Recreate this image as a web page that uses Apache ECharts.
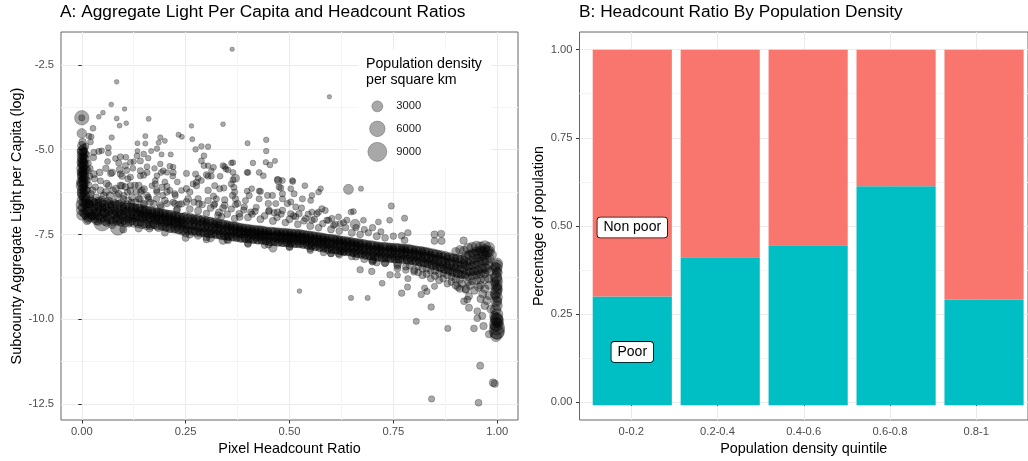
<!DOCTYPE html>
<html><head><meta charset="utf-8">
<script src="https://cdn.jsdelivr.net/npm/echarts@6.0.0/dist/echarts.min.js"></script>
<style>html,body{margin:0;padding:0;background:#fff}#chart{width:1028px;height:461px}</style>
</head><body><div id="chart"></div>
<script>
// ---------- Panel A data: [pixel headcount ratio, log aggregate light per capita, population density] ----------
const urbanColumn = [[0,-4.06,5200],[0,-4.06,1000],[0,-4.52,2300],[0.002,-4.78,1500],[0,-4.88,1800],[0.004,-4.95,1600],[0,-5.02,2000],[0.003,-5.08,1700],[0,-5.14,2200],[0.005,-5.19,1500],[0.001,-5.24,2500],[0,-5.3,1900],[0.004,-5.35,1600],[0.002,-5.4,2300],[0,-5.45,1800],[0.005,-5.5,1500],[0,-5.55,2600],[0.003,-5.6,1700],[0,-5.65,2100],[0.004,-5.7,1600],[0.001,-5.75,2400],[0,-5.8,1900],[0.005,-5.85,1500],[0.002,-5.9,2200],[0,-5.95,2800],[0.004,-6,1700],[0,-6.06,3200],[0.003,-6.12,1800],[0,-6.18,2000],[0.005,-6.24,1600],[0.001,-6.3,2300],[0,-6.36,1700],[0.004,-6.42,1900],[0,-6.5,2400],[0.003,-6.56,1600],[0,-6.63,3400],[0.002,-6.7,2000],[0,-6.78,3000],[0.004,-6.85,1800],[0,-6.93,2600],[0.001,-5.2,1200],[0.002,-5.48,1300],[0.001,-5.72,1200],[0.003,-5.33,1100],[0.002,-5.62,1400],[0.006,-5.02,1200],[0.001,-5.88,1300],[0.006,-6.1,1400],[0.008,-6.6,2200],[0.007,-6.9,2000],
[0.006,-5.1,2000],[0.007,-5.28,2200],[0.006,-5.44,2400],[0.008,-5.58,2000],[0.006,-5.7,2300],[0.007,-5.83,2100],[0.006,-5.98,2500],[0.008,-6.2,2200],[0.007,-6.35,2400],[0.009,-6.48,2000],[0.001,-5.05,2600],[0.001,-5.38,2800],[0.001,-5.68,2600],[0.001,-6.0,2700],[0.001,-6.26,2500]];
const nearUrban = [[0.017,-4.6,900],[0.021,-4.77,900],[0.027,-4.37,900],[0.023,-4.62,800],[0.029,-5.08,1000],[0.028,-5.23,1100],[0.041,-5.05,1000],[0.029,-5.72,1300],[0.043,-5.67,1200],[0.031,-5.86,1100],[0.045,-5.92,1000],[0.015,-5.4,1200],[0.02,-5.55,1000],[0.012,-6.2,1500],[0.022,-6.3,1200],[0.035,-6.4,1100],[0.018,-6.6,1600],[0.03,-6.7,1300],[0.04,-6.55,1200],[0.025,-6.95,1400],[0.038,-6.85,1300],[0.015,-7.05,1800],[0.05,-6.7,1200],[0.048,-6.45,1000],[0.033,-6.1,1000],[0.013,-5.9,1100],[0.012,-5.15,1100],[0.01,-4.9,1000],[0.014,-5.6,1300],[0.016,-6.05,1400],[0.02,-6.42,1300],[0.026,-6.2,1200],[0.019,-5.78,1100]];
const upperOutliers = [[0.051,-3.91,600],[0.041,-4.03,600],[0.071,-3.67,600],[0.103,-3.8,550],[0.084,-3.0,550],[0.084,-4.08,650],[0.091,-4.29,650],[0.107,-4.22,600],[0.161,-4.09,650],[0.072,-4.64,750],[0.064,-4.94,900],[0.064,-5.1,900],[0.048,-5.03,800],[0.153,-4.6,700],[0.134,-4.81,650],[0.153,-4.82,700],[0.134,-5.04,650],[0.167,-5.04,700],[0.189,-4.64,750],[0.2,-4.74,650],[0.185,-4.79,700],[0.181,-4.97,800],[0.233,-4.56,700],[0.241,-4.62,650],[0.264,-4.3,550],[0.34,-4.25,600],[0.266,-4.69,650],[0.362,-2.04,500],[0.596,-3.44,500]];
const upperLeft = [[0.081,-5.26,900],[0.093,-5.21,1000],[0.106,-5.22,900],[0.089,-5.39,1000],[0.091,-5.59,1200],[0.108,-5.61,1000],[0.097,-5.78,1100],[0.111,-5.86,1000],[0.097,-6.06,1200],[0.117,-6.06,1100],[0.123,-5.55,900],[0.141,-5.62,1000],[0.157,-5.5,900],[0.149,-5.75,1000],[0.137,-6.06,1300],[0.15,-6.16,1200],[0.142,-6.25,1100],[0.121,-6.4,1200],[0.131,-6.25,1000],[0.157,-6.35,1100],[0.169,-6.06,900],[0.177,-5.91,900],[0.189,-5.42,800],[0.191,-5.67,900],[0.181,-5.77,900],[0.205,-5.67,800],[0.22,-5.51,800],[0.219,-5.78,900],[0.205,-6.08,1000],[0.212,-6.2,1000],[0.062,-5.35,900],[0.07,-5.7,1200],[0.06,-6.0,1300],[0.075,-6.2,1200],[0.085,-6.35,1100],[0.065,-6.5,1300],[0.1,-6.45,1100],[0.11,-6.25,1000],[0.192,-5.14,700],[0.214,-5.14,700],[0.125,-5.35,800],[0.16,-5.25,800],[0.175,-5.55,800],[0.2,-5.95,900],[0.23,-5.95,900],[0.24,-6.2,900],[0.225,-6.35,1000],[0.195,-6.35,1000],[0.18,-6.2,1000],[0.165,-6.55,1100],[0.133,-5.18,900],[0.149,-5.13,900],[0.141,-5.33,1000],[0.117,-5.37,900],[0.105,-5.47,1000],[0.093,-5.72,1100],[0.117,-5.81,1000],[0.141,-5.77,1000],[0.157,-5.67,1000],[0.073,-5.67,1200],[0.093,-6.06,1300],[0.089,-6.3,1200],[0.065,-6.06,1100],[0.053,-6.35,1300],[0.077,-6.54,1200],[0.101,-6.35,1100],[0.117,-6.2,1200],[0.145,-6.2,1100],[0.137,-6.45,1200],[0.149,-6.59,1300],[0.212,-5.49,900],[0.22,-5.67,1000],[0.196,-5.62,900],[0.177,-6.01,1000],[0.193,-6.11,1100],[0.181,-6.25,1000],[0.205,-6.25,1100],[0.224,-6.3,1000],[0.224,-6.59,1200],[0.205,-6.59,1100],[0.189,-6.64,1200],[0.173,-6.59,1100],[0.161,-6.45,1000],[0.234,-6.61,1100],[0.228,-6.79,1200],
[0.058,-5.55,1100],[0.045,-6.2,1300],[0.068,-6.35,1400],[0.082,-6.15,1300],[0.105,-6.1,1200],[0.128,-6.05,1100],[0.112,-6.5,1300],[0.13,-6.55,1300],[0.095,-6.55,1400],[0.058,-6.25,1300]];
const upperMid = [[0.274,-4.99,800],[0.288,-4.9,800],[0.304,-4.91,800],[0.399,-4.81,700],[0.444,-4.71,800],[0.444,-5.04,800],[0.294,-5.18,900],[0.288,-5.33,900],[0.294,-5.47,900],[0.304,-5.47,800],[0.317,-5.52,900],[0.312,-5.62,800],[0.344,-5.5,900],[0.352,-5.6,900],[0.36,-5.39,800],[0.412,-5.39,800],[0.398,-5.67,900],[0.443,-5.37,800],[0.453,-5.45,900],[0.465,-5.33,700],[0.252,-5.7,1000],[0.274,-5.72,1000],[0.28,-5.84,900],[0.268,-6.01,1000],[0.276,-6.06,1100],[0.288,-5.91,900],[0.304,-5.78,1000],[0.312,-5.78,900],[0.32,-6.06,1000],[0.304,-6.2,1100],[0.333,-5.78,900],[0.342,-6.13,1000],[0.366,-6.11,1000],[0.37,-5.84,1600],[0.368,-6.25,1000],[0.37,-6.45,1100],[0.409,-6.15,900],[0.403,-6.35,1000],[0.394,-6.5,1000],[0.427,-6.22,900],[0.447,-6.35,1000],[0.449,-6.59,1100],[0.473,-5.91,1500],[0.479,-6.13,1000],[0.503,-6.15,900],[0.507,-5.91,900],[0.252,-6.15,1100],[0.26,-6.25,1100],[0.256,-6.45,1200],[0.28,-6.45,1100],[0.282,-6.59,1200],[0.304,-6.5,1100],[0.317,-6.37,1000],[0.344,-6.48,1100],[0.344,-6.64,1200],[0.318,-6.64,1100],[0.375,-6.59,1100],[0.391,-6.69,1100],[0.379,-6.89,1200],[0.407,-6.84,1100],[0.417,-6.82,1100],[0.451,-6.79,1100],[0.463,-6.86,1100],[0.471,-6.84,1100],[0.336,-6.98,1200],[0.328,-6.93,1200],[0.368,-7.03,1200],[0.3,-5.74,1000],[0.276,-5.96,1000],[0.332,-6.15,1000],[0.324,-6.45,1000],[0.363,-6.35,1100],[0.252,-6.54,1200],[0.364,-5.38,800],[0.34,-5.47,900],[0.347,-5.57,900],[0.36,-6.01,1000],[0.4,-5.67,900],[0.398,-6.22,900],[0.43,-6.23,1000],[0.427,-6.45,1000],[0.437,-5.77,900],[0.471,-5.88,1000],[0.475,-6.1,1000],[0.459,-6.35,1000],[0.467,-6.59,1000],[0.483,-6.45,1000],[0.495,-6.59,1100],[0.427,-5.67,900],[0.364,-5.67,900],[0.364,-5.89,1000],[0.483,-5.91,900],[0.508,-5.94,900],[0.537,-6.06,900],[0.511,-6.3,1000],[0.483,-6.3,1000],[0.503,-6.54,1000],[0.531,-6.45,1000],[0.554,-6.35,900],[0.57,-6.25,900],[0.578,-6.74,1000],[0.554,-6.84,1000],[0.566,-6.89,1000],[0.523,-6.89,1100],[0.503,-6.89,1100],[0.483,-6.79,1100],[0.551,-6.5,900],[0.575,-6.15,800],[0.515,-6.69,1000],[0.529,-6.72,1000],[0.515,-6.98,1100],[0.539,-7.03,1100],[0.554,-7.08,1100],[0.586,-6.79,1000],[0.57,-6.84,1000],[0.594,-7.08,1000],[0.602,-7.03,1000]];
const upperRight = [[0.642,-6.17,2500],[0.672,-6.15,700],[0.654,-6.82,900],[0.648,-6.84,900],[0.618,-6.98,900],[0.638,-7.08,1000],[0.658,-7.2,2500],[0.678,-7.08,900],[0.714,-7.13,900],[0.741,-7.08,900],[0.745,-6.66,1000],[0.777,-7.02,1000],[0.622,-7.18,1000],[0.606,-7.23,1000],[0.849,-7.5,1300],[0.865,-7.48,1300],[0.849,-7.69,1200],[0.866,-7.69,1300],[0.919,-7.68,1400],[0.77,-7.54,1200],[0.785,-7.45,1100],[0.777,-7.67,1200]];
const upperFringe = [[0.26,-6.75,1200],[0.28,-6.8,1300],[0.3,-6.88,1100],[0.31,-6.72,1200],[0.33,-6.85,1300],[0.35,-6.9,1200],[0.36,-6.75,1100],[0.38,-6.98,1300],[0.4,-7.0,1200],[0.41,-6.9,1100],[0.43,-7.05,1300],[0.44,-6.95,1200],[0.46,-7.1,1300],[0.47,-7.0,1100],[0.49,-7.15,1200],[0.5,-7.05,1300],[0.52,-7.2,1200],[0.535,-7.1,1100],[0.55,-7.25,1300],[0.57,-7.3,1200],[0.58,-7.18,1100],[0.6,-7.35,1300],[0.62,-7.4,1200],[0.635,-7.3,1100],[0.65,-7.45,1300],[0.67,-7.5,1200],[0.69,-7.45,1100],[0.71,-7.55,1300],[0.73,-7.6,1200],[0.75,-7.55,1100],[0.27,-6.55,1000],[0.29,-6.62,1100],[0.32,-6.6,1000],[0.34,-6.72,1200],[0.37,-6.62,1000],[0.39,-6.78,1100],[0.42,-6.7,1000],[0.45,-6.82,1100],[0.48,-6.9,1000],[0.51,-6.95,1100],[0.545,-6.9,1000],[0.56,-7.05,1100],[0.59,-7.08,1000],[0.61,-7.2,1100],[0.63,-7.15,1000],[0.66,-7.3,1100],[0.68,-7.35,1000],[0.7,-7.3,1100],[0.72,-7.42,1000],[0.24,-6.6,1100],[0.22,-6.55,1000],[0.2,-6.5,1200],[0.18,-6.45,1100],[0.16,-6.4,1000],[0.14,-6.45,1200],[0.12,-6.55,1100],[0.23,-6.75,1200],[0.19,-6.7,1300],[0.15,-6.62,1200]];
const bandLeft = [[0.049,-7.15,7000],[0.087,-7.3,5500],[0.137,-7.32,1400],[0.163,-7.32,1400],
[0.01,-6.45,1800],[0.01,-6.62,1500],[0.012,-6.8,2200],[0.01,-6.95,1600],[0.013,-7.08,2000],[0.011,-6.7,1400],
[0.02,-6.5,1400],[0.021,-6.68,1700],[0.02,-6.85,1500],[0.022,-7.0,1900],[0.02,-6.6,1300],[0.023,-6.92,1600],
[0.03,-6.55,1500],[0.031,-6.72,1300],[0.03,-6.88,1800],[0.032,-7.05,1400],[0.03,-6.63,1600],[0.033,-6.97,1300],
[0.04,-6.5,1300],[0.041,-6.66,1600],[0.04,-6.82,1400],[0.042,-6.98,1700],[0.04,-7.12,1500],[0.043,-6.75,1200],
[0.05,-6.58,1500],[0.051,-6.74,1300],[0.05,-6.9,1600],[0.052,-7.02,1400],[0.05,-6.68,1200],[0.053,-6.85,1700],
[0.06,-6.55,1400],[0.061,-6.7,1600],[0.06,-6.87,1300],[0.062,-7.0,1800],[0.06,-7.15,1500],[0.063,-6.78,1300],
[0.07,-6.62,1300],[0.071,-6.78,1500],[0.07,-6.93,1700],[0.072,-7.08,1400],[0.07,-6.7,1200],[0.073,-7.2,1900],
[0.08,-6.58,1500],[0.081,-6.75,1300],[0.08,-6.9,1600],[0.082,-7.05,1400],[0.08,-6.82,1700],[0.083,-6.98,1300],
[0.09,-6.6,1400],[0.091,-6.77,1600],[0.09,-6.92,1300],[0.092,-7.06,1800],[0.09,-6.85,1500],[0.093,-7.15,1400],
[0.1,-6.65,1300],[0.101,-6.8,1500],[0.1,-6.95,1700],[0.102,-7.1,1400],[0.1,-6.72,1200],[0.103,-7.0,1600],
[0.11,-6.62,1500],[0.111,-6.78,1300],[0.11,-6.92,1600],[0.112,-7.05,1400],[0.11,-6.85,1700],[0.113,-7.18,1300],
[0.12,-6.68,1400],[0.121,-6.82,1600],[0.12,-6.97,1300],[0.122,-7.1,1700],[0.12,-6.75,1200],[0.123,-7.02,1500],
[0.13,-6.7,1300],[0.131,-6.85,1500],[0.13,-7.0,1700],[0.132,-7.13,1400],[0.13,-6.78,1200],[0.133,-6.93,1600],
[0.14,-6.72,1500],[0.141,-6.88,1300],[0.14,-7.02,1600],[0.142,-7.15,1400],[0.14,-6.8,1700],[0.143,-6.95,1300],
[0.15,-6.75,1400],[0.151,-6.9,1600],[0.15,-7.05,1300],[0.152,-7.18,1800],[0.15,-6.83,1500],[0.153,-6.98,1400],
[0.16,-6.78,1300],[0.161,-6.93,1500],[0.16,-7.07,1700],[0.162,-7.2,1400],[0.16,-6.85,1200],[0.163,-7.0,1600],
[0.17,-6.8,1500],[0.171,-6.95,1300],[0.17,-7.08,1600],[0.172,-7.22,1400],[0.17,-6.88,1700],[0.173,-7.02,1300],
[0.18,-6.82,1400],[0.181,-6.97,1600],[0.18,-7.1,1300],[0.182,-7.25,1800],[0.18,-6.9,1500],[0.183,-7.04,1400],
[0.19,-6.85,1300],[0.191,-7.0,1500],[0.19,-7.13,1700],[0.192,-7.27,1400],[0.19,-6.92,1200],[0.193,-7.07,1600],
[0.2,-6.88,1500],[0.201,-7.02,1300],[0.2,-7.15,1600],[0.202,-7.3,1400],[0.2,-6.95,1700],[0.203,-7.1,1300],
[0.21,-6.9,1400],[0.211,-7.05,1600],[0.21,-7.18,1300],[0.212,-7.32,1800],[0.21,-6.98,1500],[0.213,-7.12,1400],
[0.22,-6.93,1300],[0.221,-7.08,1500],[0.22,-7.2,1700],[0.222,-7.35,1400],[0.22,-7.0,1200],[0.223,-7.15,1600],
[0.23,-6.95,1500],[0.231,-7.1,1300],[0.23,-7.23,1600],[0.232,-7.38,1400],[0.23,-7.03,1700],[0.233,-7.17,1300],
[0.24,-6.98,1400],[0.241,-7.13,1600],[0.24,-7.26,1300],[0.242,-7.4,1800],[0.24,-7.06,1500],[0.243,-7.2,1400]];
const bandMid = [[0.25,-6.95,1500],[0.251,-7.1,1300],[0.25,-7.22,1600],[0.252,-7.35,1400],[0.25,-7.45,1700],
[0.26,-6.98,1400],[0.261,-7.12,1600],[0.26,-7.25,1300],[0.262,-7.38,1500],[0.26,-7.5,1400],
[0.27,-7.0,1300],[0.271,-7.15,1500],[0.27,-7.27,1700],[0.272,-7.4,1400],[0.27,-7.08,1200],
[0.28,-7.02,1500],[0.281,-7.17,1300],[0.28,-7.3,1600],[0.282,-7.42,1400],[0.28,-7.52,1700],
[0.29,-7.05,1400],[0.291,-7.2,1600],[0.29,-7.32,1300],[0.292,-7.45,1500],[0.29,-7.12,1400],
[0.3,-7.08,1300],[0.301,-7.22,1500],[0.3,-7.35,1700],[0.302,-7.47,1400],[0.3,-7.15,1200],
[0.31,-7.1,1500],[0.311,-7.25,1300],[0.31,-7.37,1600],[0.312,-7.5,1400],[0.31,-7.6,1700],
[0.32,-7.12,1400],[0.321,-7.27,1600],[0.32,-7.38,1300],[0.322,-7.5,1500],[0.32,-7.2,1400],
[0.33,-7.15,1300],[0.331,-7.3,1500],[0.33,-7.4,1700],[0.332,-7.52,1400],[0.33,-7.22,1200],
[0.34,-7.18,1500],[0.341,-7.32,1300],[0.34,-7.43,1600],[0.342,-7.55,1400],[0.34,-7.67,1700],
[0.35,-7.2,1400],[0.351,-7.33,1600],[0.35,-7.45,1300],[0.352,-7.56,1500],[0.35,-7.27,1400],
[0.36,-7.23,1300],[0.361,-7.35,1500],[0.36,-7.47,1700],[0.362,-7.58,1400],[0.36,-7.3,1200],
[0.37,-7.25,1500],[0.371,-7.38,1300],[0.37,-7.48,1600],[0.372,-7.6,1400],[0.37,-7.33,1700],
[0.38,-7.28,1400],[0.381,-7.4,1600],[0.38,-7.5,1300],[0.382,-7.62,1500],[0.38,-7.35,1400],
[0.39,-7.3,1300],[0.391,-7.42,1500],[0.39,-7.52,1700],[0.392,-7.63,1400],[0.39,-7.37,1200],
[0.4,-7.32,1500],[0.401,-7.44,1300],[0.4,-7.54,1600],[0.402,-7.65,1400],[0.4,-7.4,1700],
[0.41,-7.33,1400],[0.411,-7.45,1600],[0.41,-7.55,1300],[0.412,-7.66,1500],[0.41,-7.4,1400],
[0.42,-7.35,1300],[0.421,-7.47,1500],[0.42,-7.57,1700],[0.422,-7.67,1400],[0.42,-7.42,1200],
[0.43,-7.36,1500],[0.431,-7.48,1300],[0.43,-7.58,1600],[0.432,-7.68,1400],[0.43,-7.44,1700],
[0.44,-7.38,1400],[0.441,-7.5,1600],[0.44,-7.6,1300],[0.442,-7.7,1500],[0.44,-7.45,1400],
[0.45,-7.4,1300],[0.451,-7.51,1500],[0.45,-7.61,1700],[0.452,-7.72,1400],[0.45,-7.46,1200],
[0.46,-7.41,1500],[0.461,-7.52,1300],[0.46,-7.62,1600],[0.462,-7.73,1400],[0.46,-7.9,1700],
[0.47,-7.42,1400],[0.471,-7.53,1600],[0.47,-7.63,1300],[0.472,-7.74,1500],[0.47,-7.48,1400],
[0.48,-7.43,1300],[0.481,-7.54,1500],[0.48,-7.64,1700],[0.482,-7.75,1400],[0.48,-7.49,1200],
[0.49,-7.44,1500],[0.491,-7.55,1300],[0.49,-7.65,1600],[0.492,-7.76,1400],[0.49,-7.5,1700],
[0.5,-7.45,1400],[0.501,-7.56,1600],[0.5,-7.66,1300],[0.502,-7.77,1500],[0.5,-7.52,1400],
[0.51,-7.46,1300],[0.511,-7.57,1500],[0.51,-7.67,1700],[0.512,-7.78,1400],[0.51,-7.53,1200],
[0.52,-7.47,1500],[0.521,-7.58,1300],[0.52,-7.68,1600],[0.522,-7.79,1400],[0.52,-7.54,1700],
[0.53,-7.48,1400],[0.531,-7.6,1600],[0.53,-7.7,1300],[0.532,-7.8,1500],[0.53,-7.56,1400],
[0.54,-7.5,1300],[0.541,-7.62,1500],[0.54,-7.72,1700],[0.542,-7.82,1400],[0.54,-7.57,1200],
[0.55,-7.52,1500],[0.551,-7.64,1300],[0.55,-7.74,1600],[0.552,-7.85,1400],[0.55,-7.59,1700],
[0.56,-7.53,1400],[0.561,-7.65,1600],[0.56,-7.76,1300],[0.562,-7.87,1500],[0.56,-7.61,1400],
[0.57,-7.55,1300],[0.571,-7.67,1500],[0.57,-7.78,1700],[0.572,-7.9,1400],[0.57,-7.62,1200],
[0.58,-7.58,1500],[0.581,-7.7,1300],[0.58,-7.8,1600],[0.582,-7.92,1400],[0.58,-7.65,1700],
[0.59,-7.6,1400],[0.591,-7.72,1600],[0.59,-7.83,1300],[0.592,-7.95,1500],[0.59,-7.67,1400]];
const bandRight = [[0.6,-7.6,1300],[0.601,-7.72,1500],[0.6,-7.84,1700],[0.602,-7.96,1400],[0.6,-8.06,1200],
[0.61,-7.62,1500],[0.611,-7.74,1300],[0.61,-7.86,1600],[0.612,-7.97,1400],[0.61,-7.68,1700],
[0.62,-7.64,1400],[0.621,-7.76,1600],[0.62,-7.88,1300],[0.622,-7.99,1500],[0.62,-7.7,1400],
[0.63,-7.66,1300],[0.631,-7.78,1500],[0.63,-7.9,1700],[0.632,-8.0,1400],[0.63,-7.72,1200],
[0.64,-7.68,1500],[0.641,-7.8,1300],[0.64,-7.92,1600],[0.642,-8.02,1400],[0.64,-7.74,1700],
[0.65,-7.7,1400],[0.651,-7.82,1600],[0.65,-7.94,1300],[0.652,-8.04,1500],[0.65,-7.76,1400],
[0.66,-7.72,1300],[0.661,-7.84,1500],[0.66,-7.96,1700],[0.662,-8.07,1400],[0.66,-7.78,1200],
[0.67,-7.74,1500],[0.671,-7.86,1300],[0.67,-7.98,1600],[0.672,-8.1,1400],[0.67,-7.8,1700],
[0.68,-7.76,1400],[0.681,-7.88,1600],[0.68,-8.0,1300],[0.682,-8.12,1500],[0.68,-8.22,1400],
[0.69,-7.78,1300],[0.691,-7.9,1500],[0.69,-8.02,1700],[0.692,-8.14,1400],[0.69,-7.84,1200],
[0.7,-7.8,1500],[0.701,-7.92,1300],[0.7,-8.04,1600],[0.702,-8.16,1400],[0.7,-8.26,1700],
[0.71,-7.82,1400],[0.711,-7.94,1600],[0.71,-8.06,1300],[0.712,-8.18,1500],[0.71,-7.88,1400],
[0.72,-7.84,1300],[0.721,-7.96,1500],[0.72,-8.08,1700],[0.722,-8.2,1400],[0.72,-7.9,1200],
[0.73,-7.85,1500],[0.731,-7.97,1300],[0.73,-8.09,1600],[0.732,-8.21,1400],[0.73,-8.32,1700],
[0.74,-7.86,1400],[0.741,-7.98,1600],[0.74,-8.1,1300],[0.742,-8.22,1500],[0.74,-7.92,1400],
[0.75,-7.87,1300],[0.751,-7.99,1500],[0.75,-8.11,1700],[0.752,-8.23,1400],[0.75,-7.93,1200],
[0.76,-7.88,1500],[0.761,-8.0,1300],[0.76,-8.12,1600],[0.762,-8.24,1400],[0.76,-8.35,1700],
[0.77,-7.89,1400],[0.771,-8.01,1600],[0.77,-8.13,1300],[0.772,-8.25,1500],[0.77,-7.95,1400],
[0.78,-7.9,1300],[0.781,-8.02,1500],[0.78,-8.14,1700],[0.782,-8.26,1400],[0.78,-7.96,1200],
[0.79,-7.92,1500],[0.791,-8.04,1300],[0.79,-8.16,1600],[0.792,-8.28,1400],[0.79,-8.4,1700],
[0.8,-7.94,1400],[0.801,-8.06,1600],[0.8,-8.18,1300],[0.802,-8.3,1500],[0.8,-8.0,1400],
[0.81,-7.96,1300],[0.811,-8.08,1500],[0.81,-8.2,1700],[0.812,-8.32,1400],[0.81,-8.44,1200],
[0.82,-7.98,1500],[0.821,-8.1,1300],[0.82,-8.22,1600],[0.822,-8.34,1400],[0.82,-8.04,1700],
[0.83,-8.0,1400],[0.831,-8.13,1600],[0.83,-8.25,1300],[0.832,-8.37,1500],[0.83,-8.5,1400],
[0.84,-8.03,1300],[0.841,-8.16,1500],[0.84,-8.28,1700],[0.842,-8.4,1400],[0.84,-8.1,1200],
[0.85,-8.06,1500],[0.851,-8.19,1300],[0.85,-8.31,1600],[0.852,-8.44,1400],[0.85,-8.56,1700],
[0.86,-8.08,1400],[0.861,-8.22,1600],[0.86,-8.35,1300],[0.862,-8.48,1500],[0.86,-8.15,1400],
[0.87,-8.12,1300],[0.871,-8.26,1500],[0.87,-8.4,1700],[0.872,-8.53,1400],[0.87,-8.65,1200],
[0.88,-8.15,1500],[0.881,-8.3,1300],[0.88,-8.44,1600],[0.882,-8.57,1400],[0.88,-8.22,1700],
[0.89,-8.18,1400],[0.891,-8.33,1600],[0.89,-8.48,1300],[0.892,-8.62,1500],[0.89,-8.75,1400],
[0.9,-8.2,1300],[0.901,-8.36,1500],[0.9,-8.5,1700],[0.902,-8.64,1400],[0.9,-8.28,1200],
[0.91,-8.22,1500],[0.911,-8.38,1300],[0.91,-8.53,1600],[0.912,-8.68,1400],[0.91,-8.82,1700],
[0.92,-8.25,1400],[0.921,-8.4,1600],[0.92,-8.55,1300],[0.922,-8.7,1500],[0.92,-8.33,1400]];
const bandInterleaved = [[0.015,-6.58,1900],[0.015,-6.83,2200],[0.015,-7.0,1800],[0.025,-6.52,1800],[0.025,-6.78,2100],[0.025,-6.95,1900],[0.035,-6.6,2000],[0.035,-6.85,1800],[0.035,-7.08,2200],[0.045,-6.55,1900],[0.045,-6.8,2200],[0.045,-7.05,1800],[0.055,-6.62,1800],[0.055,-6.88,2100],[0.055,-7.1,1900],[0.065,-6.6,2000],[0.065,-6.84,1800],[0.065,-7.05,2200],[0.075,-6.65,1900],[0.075,-6.9,2200],[0.075,-7.12,1800],[0.085,-6.62,1800],[0.085,-6.86,2100],[0.085,-7.1,1900],[0.095,-6.68,2000],[0.095,-6.9,1800],[0.095,-7.12,2200],[0.105,-6.7,1900],[0.105,-6.88,2200],[0.105,-7.15,1800],[0.115,-6.7,1800],[0.115,-6.95,2100],[0.115,-7.12,1900],[0.125,-6.72,2000],[0.125,-6.92,1800],[0.125,-7.15,2200],[0.135,-6.74,1900],[0.135,-6.95,2200],[0.135,-7.18,1800],[0.145,-6.78,1800],[0.145,-6.98,2100],[0.145,-7.2,1900],[0.155,-6.8,2000],[0.155,-6.96,1800],[0.155,-7.22,2200],[0.165,-6.8,1900],[0.165,-7.0,2200],[0.165,-7.24,1800],[0.175,-6.84,1800],[0.175,-7.03,2100],[0.175,-7.2,1900],[0.185,-6.86,2000],[0.185,-7.05,1800],[0.185,-7.28,2200],[0.195,-6.88,1900],[0.195,-7.06,2200],[0.195,-7.25,1800],[0.205,-6.9,1800],[0.205,-7.1,2100],[0.205,-7.28,1900],[0.215,-6.92,2000],[0.215,-7.1,1800],[0.215,-7.3,2200],[0.225,-6.95,1900],[0.225,-7.14,2200],[0.225,-7.32,1800],[0.235,-6.98,1800],[0.235,-7.15,2100],[0.235,-7.35,1900],[0.245,-7.0,2000],[0.245,-7.18,1800],[0.245,-7.36,2200],
[0.255,-7.02,1900],[0.255,-7.2,2200],[0.255,-7.38,1800],[0.265,-7.04,1800],[0.265,-7.22,2100],[0.265,-7.4,1900],[0.275,-7.06,2000],[0.275,-7.24,1800],[0.275,-7.42,2200],[0.285,-7.08,1900],[0.285,-7.26,2200],[0.285,-7.45,1800],[0.295,-7.1,1800],[0.295,-7.28,2100],[0.295,-7.44,1900],[0.305,-7.12,2000],[0.305,-7.3,1800],[0.305,-7.46,2200],[0.315,-7.15,1900],[0.315,-7.32,2200],[0.315,-7.48,1800],[0.325,-7.16,1800],[0.325,-7.34,2100],[0.325,-7.5,1900],[0.335,-7.2,2000],[0.335,-7.36,1800],[0.335,-7.52,2200],[0.345,-7.22,1900],[0.345,-7.38,2200],[0.345,-7.54,1800],[0.355,-7.24,1800],[0.355,-7.4,2100],[0.355,-7.55,1900],[0.365,-7.26,2000],[0.365,-7.42,1800],[0.365,-7.56,2200],[0.375,-7.28,1900],[0.375,-7.44,2200],[0.375,-7.58,1800],[0.385,-7.3,1800],[0.385,-7.45,2100],[0.385,-7.6,1900],[0.395,-7.32,2000],[0.395,-7.46,1800],[0.395,-7.6,2200],[0.405,-7.34,1900],[0.405,-7.48,2200],[0.405,-7.62,1800],[0.415,-7.35,1800],[0.415,-7.5,2100],[0.415,-7.63,1900],[0.425,-7.37,2000],[0.425,-7.52,1800],[0.425,-7.65,2200],[0.435,-7.38,1900],[0.435,-7.53,2200],[0.435,-7.66,1800],[0.445,-7.4,1800],[0.445,-7.54,2100],[0.445,-7.68,1900],[0.455,-7.41,2000],[0.455,-7.55,1800],[0.455,-7.7,2200],[0.465,-7.42,1900],[0.465,-7.57,2200],[0.465,-7.7,1800],[0.475,-7.43,1800],[0.475,-7.58,2100],[0.475,-7.71,1900],[0.485,-7.44,2000],[0.485,-7.59,1800],[0.485,-7.72,2200],[0.495,-7.45,1900],[0.495,-7.6,2200],[0.495,-7.73,1800],
[0.505,-7.46,1800],[0.505,-7.61,2100],[0.505,-7.74,1900],[0.515,-7.47,2000],[0.515,-7.62,1800],[0.515,-7.75,2200],[0.525,-7.48,1900],[0.525,-7.63,2200],[0.525,-7.76,1800],[0.535,-7.5,1800],[0.535,-7.65,2100],[0.535,-7.78,1900],[0.545,-7.52,2000],[0.545,-7.67,1800],[0.545,-7.8,2200],[0.555,-7.54,1900],[0.555,-7.69,2200],[0.555,-7.82,1800],[0.565,-7.56,1800],[0.565,-7.71,2100],[0.565,-7.84,1900],[0.575,-7.58,2000],[0.575,-7.73,1800],[0.575,-7.86,2200],[0.585,-7.6,1900],[0.585,-7.75,2200],[0.585,-7.88,1800],[0.595,-7.62,1800],[0.595,-7.77,2100],[0.595,-7.9,1900],[0.605,-7.64,2000],[0.605,-7.79,1800],[0.605,-7.93,2200],[0.615,-7.66,1900],[0.615,-7.81,2200],[0.615,-7.95,1800],[0.625,-7.68,1800],[0.625,-7.83,2100],[0.625,-7.97,1900],[0.635,-7.7,2000],[0.635,-7.85,1800],[0.635,-7.99,2200],[0.645,-7.72,1900],[0.645,-7.87,2200],[0.645,-8.01,1800],[0.655,-7.74,1800],[0.655,-7.89,2100],[0.655,-8.03,1900],[0.665,-7.76,2000],[0.665,-7.91,1800],[0.665,-8.05,2200],[0.675,-7.78,1900],[0.675,-7.93,2200],[0.675,-8.07,1800],[0.685,-7.8,1800],[0.685,-7.95,2100],[0.685,-8.1,1900],[0.695,-7.82,2000],[0.695,-7.97,1800],[0.695,-8.12,2200],[0.705,-7.84,1900],[0.705,-7.99,2200],[0.705,-8.14,1800],[0.715,-7.85,1800],[0.715,-8.0,2100],[0.715,-8.15,1900],[0.725,-7.86,2000],[0.725,-8.02,1800],[0.725,-8.17,2200],[0.735,-7.87,1900],[0.735,-8.03,2200],[0.735,-8.18,1800],[0.745,-7.88,1800],[0.745,-8.04,2100],[0.745,-8.19,1900],
[0.755,-7.89,2000],[0.755,-8.05,1800],[0.755,-8.2,2200],[0.765,-7.9,1900],[0.765,-8.06,2200],[0.765,-8.21,1800],[0.775,-7.91,1800],[0.775,-8.07,2100],[0.775,-8.22,1900],[0.785,-7.92,2000],[0.785,-8.08,1800],[0.785,-8.24,2200],[0.795,-7.94,1900],[0.795,-8.1,2200],[0.795,-8.26,1800],[0.805,-7.96,1800],[0.805,-8.12,2100],[0.805,-8.28,1900],[0.815,-7.98,2000],[0.815,-8.14,1800],[0.815,-8.3,2200],[0.825,-8.0,1900],[0.825,-8.17,2200],[0.825,-8.33,1800],[0.835,-8.02,1800],[0.835,-8.2,2100],[0.835,-8.36,1900],[0.845,-8.05,2000],[0.845,-8.23,1800],[0.845,-8.4,2200],[0.855,-8.08,1900],[0.855,-8.26,2200],[0.855,-8.44,1800],[0.865,-8.1,1800],[0.865,-8.3,2100],[0.865,-8.48,1900],[0.875,-8.13,2000],[0.875,-8.34,1800],[0.875,-8.52,2200],[0.885,-8.16,1900],[0.885,-8.38,2200],[0.885,-8.56,1800],[0.895,-8.19,1800],[0.895,-8.41,2100],[0.895,-8.6,1900],[0.905,-8.21,2000],[0.905,-8.44,1800],[0.905,-8.64,2200],[0.915,-8.23,1900],[0.915,-8.47,2200],[0.915,-8.68,1800],[0.925,-8.15,2200],[0.925,-8.42,2000],[0.925,-8.66,1800],[0.935,-8.12,2400],[0.935,-8.38,2100],[0.935,-8.62,1900],[0.945,-8.08,2600],[0.945,-8.34,2200],[0.945,-8.6,2000],[0.955,-8.05,2800],[0.955,-8.3,2300],[0.955,-8.58,2000],[0.965,-8.02,3000],[0.965,-8.26,2400],[0.965,-8.55,2100],[0.975,-8.0,3200],[0.975,-8.25,2500],[0.975,-8.52,2200]];
const bandSpread = [[0.3,-7.58,1300],[0.35,-7.65,1200],[0.4,-7.75,1300],[0.45,-7.8,1200],[0.5,-7.85,1300],[0.55,-7.92,1200],[0.6,-8.05,1300],[0.62,-8.1,1200],[0.66,-8.15,1300],[0.7,-8.3,1300],[0.73,-8.35,1200],[0.76,-8.42,1300],[0.78,-8.45,1200],
[0.8,-8.55,1300],[0.81,-8.62,1200],[0.82,-8.5,1400],[0.83,-8.66,1300],[0.84,-8.58,1200],[0.85,-8.72,1400],[0.86,-8.65,1300],[0.87,-8.8,1200],[0.88,-8.7,1400],[0.89,-8.9,1300],[0.9,-8.82,1500],[0.905,-9.05,1300],[0.915,-8.95,1400],[0.925,-9.1,1500],[0.935,-9.0,1600],[0.945,-9.15,1500],[0.955,-9.05,1700],[0.965,-9.25,1600],[0.975,-9.45,1700],[0.97,-9.6,1500],[0.985,-9.7,1800],[0.96,-9.4,1400],
[0.9,-8.0,1600],[0.91,-7.95,1800],[0.92,-7.98,2000],[0.93,-7.9,2400],[0.94,-7.88,2600],[0.95,-7.85,2800],[0.96,-7.88,3000],[0.97,-7.85,3200],[0.98,-7.9,3400],[0.985,-8.1,3000]];
const bandEdge = [[0.93,-8.1,1800],[0.931,-8.3,1500],[0.93,-8.45,1700],[0.932,-8.6,1400],[0.93,-8.75,1600],[0.93,-8.9,1300],
[0.94,-8.05,2000],[0.941,-8.25,1600],[0.94,-8.42,1800],[0.942,-8.58,1500],[0.94,-8.72,1700],[0.94,-8.88,1400],
[0.95,-8.0,2200],[0.951,-8.2,1800],[0.95,-8.38,1600],[0.952,-8.55,1900],[0.95,-8.7,1500],[0.95,-8.85,1700],
[0.96,-7.98,2500],[0.961,-8.15,1900],[0.96,-8.32,1700],[0.962,-8.5,2000],[0.96,-8.66,1600],[0.96,-8.82,1800],[0.96,-9.0,1500],
[0.97,-7.95,2800],[0.971,-8.12,2000],[0.97,-8.3,1800],[0.972,-8.48,2100],[0.97,-8.65,1700],[0.97,-8.82,1900],[0.97,-9.1,1600],
[0.98,-8.0,3000],[0.981,-8.2,2200],[0.98,-8.4,1900],[0.982,-8.6,2000],[0.98,-8.8,1800],[0.98,-9.0,1700],[0.98,-9.3,1600]];
const ruralColumn = [[1,-8.35,2800],[0.998,-8.5,3000],[1,-8.62,2600],[0.997,-8.75,3200],[1,-8.88,2800],[0.999,-9.0,3000],[1,-9.1,2600],[0.997,-9.22,3300],[1,-9.35,2700],[0.998,-9.48,2900],[1,-9.6,2600],[0.996,-9.72,2800],[1,-9.85,3200],[0.999,-9.98,3600],[1,-10.05,4200],[0.998,-10.15,4800],[1,-10.25,5500],[0.999,-10.35,6000],[1,-10.4,4500],[0.997,-10.5,3000],[0.995,-8.45,2200],[0.994,-8.9,2000],[0.995,-9.3,2100],[0.993,-9.9,2200],[0.996,-10.2,2600],[1,-8.6,1800],[1,-9.05,1900],[1,-9.45,2000],[1,-10.1,2400],[0.999,-8.42,3400],[0.998,-8.8,3200],[0.999,-9.15,3000],[0.998,-10.0,4000]];
const lowerFringe = [[0.1,-7.35,1300],[0.2,-7.45,1200],[0.25,-7.6,1300],[0.3,-7.65,1200],[0.352,-7.67,1300],[0.4,-7.78,1200],[0.44,-7.82,1100],[0.5,-7.88,1200],[0.55,-7.97,1100],[0.582,-8.03,1200],[0.618,-8.06,1200],[0.63,-8.03,1100],[0.65,-8.15,1200],[0.67,-8.54,1100],[0.698,-8.59,1100],[0.71,-8.33,1200],[0.742,-8.69,1100],[0.76,-8.5,1200],[0.78,-8.55,1100],[0.8,-8.6,1200],[0.82,-8.7,1300],[0.84,-8.8,1200],[0.86,-8.85,1300],[0.88,-8.95,1200],[0.9,-9.0,1400],[0.91,-9.1,1300],[0.7,-8.26,1100],[0.76,-8.7,900],[0.785,-8.8,1000]];
const lowerOutliers = [[0.524,-9.17,600],[0.648,-9.37,700],[0.688,-9.37,700],[0.723,-8.94,900],[0.77,-9.23,1100],[0.784,-9.05,1000],[0.817,-9.27,1100],[0.825,-9.08,1000],[0.849,-9.03,1000],[0.831,-9.18,1000],[0.841,-9.64,1100],[0.805,-10.06,1000],[0.881,-10.27,1000],[0.944,-10.27,1200],[0.959,-11.37,1300],[0.99,-11.87,1500],[0.994,-11.9,1400],[0.842,-12.35,1000],[0.955,-12.46,1200],[0.924,-9.13,1300],[0.928,-9.42,1200],[0.932,-9.66,1300],[0.952,-9.76,1200],[0.964,-9.9,1300],[0.952,-9.97,1200],[0.967,-10.2,1400],[0.98,-10.44,1300],[0.92,-9.47,1200],[0.932,-9.32,1300]];

const ratioTicks = [0, 0.25, 0.5, 0.75, 1];
const ratioMinorTicks = [0.125, 0.375, 0.625, 0.875];
const lightTicks = [-12.5, -10, -7.5, -5, -2.5];
const lightMinorTicks = [-11.25, -8.75, -6.25, -3.75];
const sizeBreaks = [3000, 6000, 9000];

// ---------- Panel B data ----------
const quintiles = ['0-0.2', '0.2-0.4', '0.4-0.6', '0.6-0.8', '0.8-1'];
const poorShare = [0.306, 0.416, 0.45, 0.616, 0.297];
const nonPoorShare = [0.694, 0.584, 0.55, 0.384, 0.703];
const shareTicks = [0, 0.25, 0.5, 0.75, 1];
const shareMinorTicks = [0.125, 0.375, 0.625, 0.875];
const labelNames = ['Non poor', 'Poor'];
const labelShares = [0.5, 0.15];

// ---------- build ----------
const subcounties = [].concat(urbanColumn, nearUrban, upperOutliers, upperLeft, upperMid, upperRight,
  upperFringe, bandLeft, bandMid, bandRight, bandInterleaved, bandSpread, bandEdge, ruralColumn, lowerFringe, lowerOutliers);
const quintilePos = quintiles.map((q, i) => i + 1);
function dotSize(d) { return 11 * Math.sqrt(d / 3000); }

const FONT = '"Liberation Sans", Arial, Helvetica, sans-serif';
const dotStyle = { color: 'rgba(0,0,0,0.34)', borderColor: 'rgba(0,0,0,0.34)', borderWidth: 0.7, opacity: 1 };
const tickText = { fontSize: 11.2, color: '#4d4d4d', fontFamily: FONT };
const nameText = { fontSize: 14.4, color: '#000', fontFamily: FONT };
const majorLine = { color: '#ebebeb', width: 1 };
const minorLine = { color: '#f4f4f4', width: 1 };

function mainAxis(o) {
  return Object.assign({
    type: 'value', nameLocation: 'middle', nameTextStyle: nameText,
    axisLine: { show: false },
    axisTick: { show: true, length: 3.5, lineStyle: { color: '#333', width: 1 }, customValues: o.ticks },
    axisLabel: { customValues: o.ticks, formatter: o.fmt, margin: o.margin, ...tickText },
    splitLine: { show: true, customValues: o.ticks, lineStyle: majorLine }
  }, o.extra);
}
function minorAxis(o) {
  return Object.assign({
    type: 'value', axisLine: { show: false },
    axisTick: { show: false, customValues: o.ticks },
    axisLabel: { show: false, customValues: o.ticks },
    splitLine: { show: true, customValues: o.ticks, lineStyle: minorLine }
  }, o.extra);
}

const legendCenters = [106, 128.5, 151.5];
const legends = sizeBreaks.map((v, i) => {
  const w = dotSize(v);
  return {
    data: [String(v)], left: 377 - w / 2, top: legendCenters[i] - w / 2, padding: 0,
    itemWidth: w, itemHeight: w, icon: 'circle', selectedMode: false, z: 5,
    itemStyle: dotStyle,
    textStyle: { fontSize: 11.2, color: '#1a1a1a', fontFamily: FONT, padding: [0, 0, 0, 396 - (377 + w / 2 + 5)] }
  };
});

// category band geometry of panel B: 5 equal bands with 0.6 band of padding at each side of the panel
const panelBLeft = 579.5, panelBWidth = 458;
const bandW = panelBWidth / (quintiles.length - 1 + 1.2);

const option = {
  animation: false,
  textStyle: { fontFamily: FONT },
  title: [
    { text: 'A: Aggregate Light Per Capita and Headcount Ratios', left: 60, top: 4, padding: 0,
      textStyle: { fontSize: 17.3, fontWeight: 'normal', color: '#000', fontFamily: FONT } },
    { text: 'B: Headcount Ratio By Population Density', left: 579, top: 4, padding: 0,
      textStyle: { fontSize: 17.3, fontWeight: 'normal', color: '#000', fontFamily: FONT } },
    { text: 'Population density\nper square km', left: 358, top: 50, padding: [6, 9, 80, 8], z: 1,
      backgroundColor: '#fff',
      textStyle: { fontSize: 14.2, lineHeight: 16, fontWeight: 'normal', color: '#000', fontFamily: FONT } }
  ],
  legend: legends,
  grid: [
    { left: 61, top: 32, width: 457, height: 391, show: true, borderColor: '#666', borderWidth: 1, backgroundColor: 'transparent' },
    { left: panelBLeft, top: 32, width: panelBWidth, height: 391, show: true, borderColor: '#666', borderWidth: 1, backgroundColor: 'transparent' },
    { left: panelBLeft + 0.1 * bandW, top: 32, width: bandW * quintiles.length, height: 391, show: false }
  ],
  xAxis: [
    mainAxis({ ticks: ratioTicks, fmt: v => v.toFixed(2), margin: 6,
      extra: { gridIndex: 0, min: -0.05, max: 1.05, name: 'Pixel Headcount Ratio', nameGap: 22 } }),
    minorAxis({ ticks: ratioMinorTicks, extra: { gridIndex: 0, min: -0.05, max: 1.05, position: 'top' } }),
    mainAxis({ ticks: quintilePos, fmt: v => quintiles[Math.round(v) - 1], margin: 6,
      extra: { gridIndex: 1, min: 0.4, max: 5.6, name: 'Population density quintile', nameGap: 22 } }),
    { type: 'category', gridIndex: 2, data: quintiles, show: false, boundaryGap: true }
  ],
  yAxis: [
    mainAxis({ ticks: lightTicks, fmt: v => v.toFixed(1), margin: 7,
      extra: { gridIndex: 0, min: -12.97, max: -1.53, name: 'Subcounty Aggregate Light per Capita (log)', nameGap: 37 } }),
    minorAxis({ ticks: lightMinorTicks, extra: { gridIndex: 0, min: -12.97, max: -1.53, position: 'right' } }),
    mainAxis({ ticks: shareTicks, fmt: v => v.toFixed(2), margin: 7,
      extra: { gridIndex: 1, min: -0.05, max: 1.05, name: 'Percentage of population', nameGap: 33 } }),
    minorAxis({ ticks: shareMinorTicks, extra: { gridIndex: 1, min: -0.05, max: 1.05, position: 'right' } }),
    { type: 'value', gridIndex: 2, min: -0.05, max: 1.05, show: false }
  ],
  series: [
    { type: 'scatter', name: 'subcounties', xAxisIndex: 0, yAxisIndex: 0, data: subcounties,
      symbolSize: v => dotSize(v[2]), itemStyle: dotStyle, silent: true, z: 2, large: false },
    ...sizeBreaks.map(v => ({ type: 'scatter', name: String(v), xAxisIndex: 0, yAxisIndex: 0, data: [], itemStyle: dotStyle })),
    { type: 'bar', name: 'Poor', xAxisIndex: 3, yAxisIndex: 4, stack: 'share', barWidth: '90%',
      data: poorShare, itemStyle: { color: '#00BFC4', opacity: 1 }, silent: true },
    { type: 'bar', name: 'Non poor', xAxisIndex: 3, yAxisIndex: 4, stack: 'share', barWidth: '90%',
      data: nonPoorShare, itemStyle: { color: '#F8766D', opacity: 1 }, silent: true },
    { type: 'scatter', name: 'labels', xAxisIndex: 3, yAxisIndex: 4, symbolSize: 1, z: 10, silent: true,
      itemStyle: { color: '#fff', opacity: 1 },
      data: labelNames.map((n, i) => ({ name: n, value: [quintiles[0], labelShares[i]] })),
      label: { show: true, position: 'inside', formatter: '{b}', fontSize: 14, color: '#000', fontFamily: FONT, opacity: 1,
        backgroundColor: '#fff', borderColor: '#000', borderWidth: 0.8, borderRadius: 3, padding: [3, 6] } }
  ]
};
const chart = echarts.init(document.getElementById('chart'));
chart.setOption(option);
</script></body></html>
